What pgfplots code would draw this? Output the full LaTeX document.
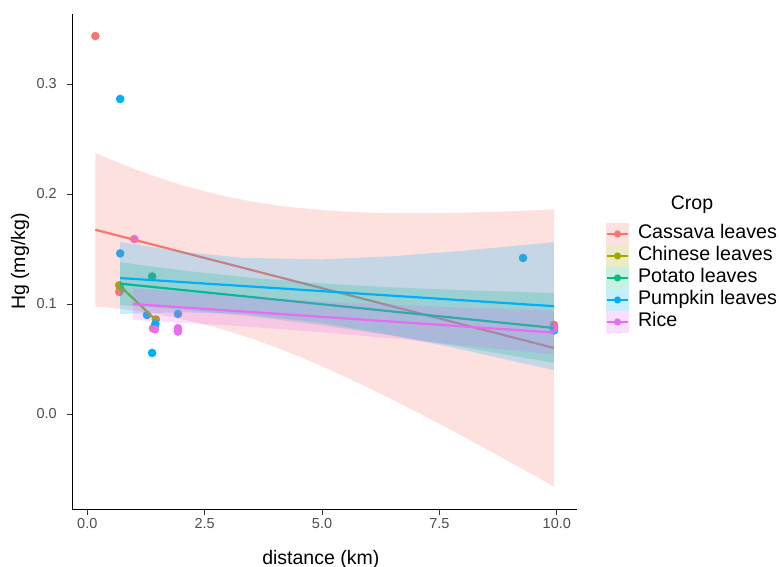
\documentclass[border=0pt]{standalone}
\usepackage{pgfplots}
\pgfplotsset{compat=1.18}
\usepackage{fontspec}
\setmainfont{Liberation Sans}
\definecolor{cassava}{HTML}{F8766D}
\definecolor{chinese}{HTML}{A3A500}
\definecolor{potato}{HTML}{00BF7D}
\definecolor{pumpkin}{HTML}{00B0F6}
\definecolor{rice}{HTML}{E76BF3}
\definecolor{gray30}{HTML}{4D4D4D}
\definecolor{gray20}{HTML}{333333}
\pgfplotsset{
  leg/.style={legend image code/.code={
      \fill[draw=none, fill=#1, fill opacity=0.22] (0bp,-11bp) rectangle (23bp,11bp);
      \draw[draw=#1, line width=2bp] (1bp,0bp) -- (22bp,0bp);
      \fill[draw=none, fill=#1] (11.5bp,0bp) circle (3.6bp);
  }},
  pts/.style={only marks, mark=*, color=#1, mark size=4.1bp, mark options={line width=0.3bp}, forget plot},
  rib/.style={draw=none, fill=#1, fill opacity=0.22, forget plot},
  fit/.style={color=#1, line width=2.2bp, no marks, forget plot},
}
\begin{document}
\begin{tikzpicture}
\begin{axis}[
  scale only axis, width=504.7bp, height=496.1bp,
  xmin=-0.32, xmax=10.43, ymin=-0.087, ymax=0.364,
  axis lines=left,
  axis line style={black, line width=0.9bp, -},
  clip marker paths=true,
  xtick={0,2.5,5,7.5,10}, xticklabels={0.0,2.5,5.0,7.5,10.0},
  ytick={0,0.1,0.2,0.3}, yticklabels={0.0,0.1,0.2,0.3},
  tick align=outside, major tick length=5bp,
  tick style={color=gray20, line width=0.9bp},
  ticklabel style={font=\fontsize{14.5bp}{17bp}\selectfont, text=gray30},
  yticklabel style={xshift=-7bp},
  xlabel={distance (km)}, ylabel={Hg (mg/kg)},
  label style={font=\fontsize{19.5bp}{23bp}\selectfont},
  xlabel style={at={(axis description cs:0.4924,-0.1095)}, anchor=base},
  ylabel style={at={(axis description cs:-0.1036,0.5)}, anchor=center},
  legend style={at={(axis description cs:1.0575,0.578)}, anchor=north west,
    draw=none, fill=none, inner sep=0pt, outer sep=0pt, row sep=0pt,
    font=\fontsize{19.7bp}{22bp}\selectfont,
    nodes={inner sep=0pt, outer sep=0pt, text height=14bp, text depth=4bp},
    /tikz/every odd column/.append style={column sep=9bp}},
  legend cell align=left,
]
\coordinate (O) at (rel axis cs:0,0);
% points
\addplot[pts=potato] coordinates {(0.70,0.114) (1.38,0.125) (1.44,0.080) (9.94,0.079)};
\addplot[pts=cassava] coordinates {(0.17,0.3436) (0.68,0.111) (1.40,0.078) (9.94,0.081)};
\addplot[pts=chinese] coordinates {(0.68,0.117) (1.46,0.086)};
\addplot[pts=pumpkin] coordinates {(0.70,0.2864) (0.70,0.146) (1.27,0.090) (1.38,0.0555) (1.45,0.082) (1.93,0.091) (9.28,0.1418) (9.94,0.076)};
\addplot[pts=rice] coordinates {(1.00,0.159) (1.44,0.077) (1.93,0.075) (1.93,0.078) (9.94,0.078)};
% cassava
\addplot[rib=cassava] coordinates {(0.17,0.2372) (0.5,0.2313) (1,0.2228) (1.5,0.2152) (2,0.2083) (2.5,0.2024) (3,0.1973) (3.5,0.1932) (4,0.1898) (4.5,0.1873) (5,0.1854) (5.5,0.1840) (6,0.1831) (6.5,0.1827) (7,0.1825) (7.5,0.1827) (8,0.1830) (8.5,0.1836) (9,0.1843) (9.5,0.1852) (9.94,0.1860)
  (9.94,-0.0660) (9.5,-0.0554) (9,-0.0436) (8.5,-0.0318) (8,-0.0203) (7.5,-0.0089) (7,0.0022) (6.5,0.0131) (6,0.0236) (5.5,0.0337) (5,0.0434) (4.5,0.0525) (4,0.0609) (3.5,0.0686) (3,0.0754) (2.5,0.0814) (2,0.0864) (1.5,0.0906) (1,0.0939) (0.5,0.0965) (0.17,0.0978)} -- cycle;
\addplot[fit=cassava] coordinates {(0.17,0.1675) (9.94,0.060)};
% chinese
\addplot[fit=chinese] coordinates {(0.68,0.117) (1.46,0.0855)};
% potato
\addplot[rib=potato] coordinates {(0.70,0.138) (2,0.1306) (3.5,0.1238) (5,0.1187) (6.5,0.1151) (8,0.1126) (9.94,0.110)
  (9.94,0.0464) (8,0.0608) (6.5,0.0712) (5,0.0807) (3.5,0.0888) (2,0.0950) (0.70,0.099)} -- cycle;
\addplot[fit=potato] coordinates {(0.70,0.1185) (9.94,0.0782)};
% pumpkin
\addplot[rib=pumpkin] coordinates {(0.70,0.1564) (2,0.1475) (3.3,0.1420) (5,0.1406) (6.5,0.1434) (8,0.1484) (9.94,0.1562)
  (9.94,0.0398) (8,0.0584) (6.5,0.0716) (5,0.0828) (3.3,0.0908) (2,0.0925) (0.70,0.0909)} -- cycle;
\addplot[fit=pumpkin] coordinates {(0.70,0.1236) (9.94,0.098)};
% rice
\addplot[rib=rice] coordinates {(0.97,0.1145) (3.3,0.1067) (5,0.1024) (6.5,0.0993) (8,0.0967) (9.94,0.094)
  (9.94,0.054) (8,0.0625) (6.5,0.0687) (5,0.0743) (3.3,0.0797) (0.97,0.0855)} -- cycle;
\addplot[fit=rice] coordinates {(0.97,0.100) (9.94,0.074)};
% legend
\addlegendimage{leg=cassava}\addlegendentry{Cassava leaves}
\addlegendimage{leg=chinese}\addlegendentry{Chinese leaves}
\addlegendimage{leg=potato}\addlegendentry{Potato leaves}
\addlegendimage{leg=pumpkin}\addlegendentry{Pumpkin leaves}
\addlegendimage{leg=rice}\addlegendentry{Rice}
\end{axis}
\node[font=\fontsize{19.5bp}{23bp}\selectfont, inner sep=0pt] at ([xshift=619.7bp,yshift=304.7bp]O) {Crop};
\pgfresetboundingbox
\path[use as bounding box] ([xshift=-72.3bp,yshift=-57.3bp]O) rectangle ++(779bp,567bp);
\end{tikzpicture}
\end{document}
